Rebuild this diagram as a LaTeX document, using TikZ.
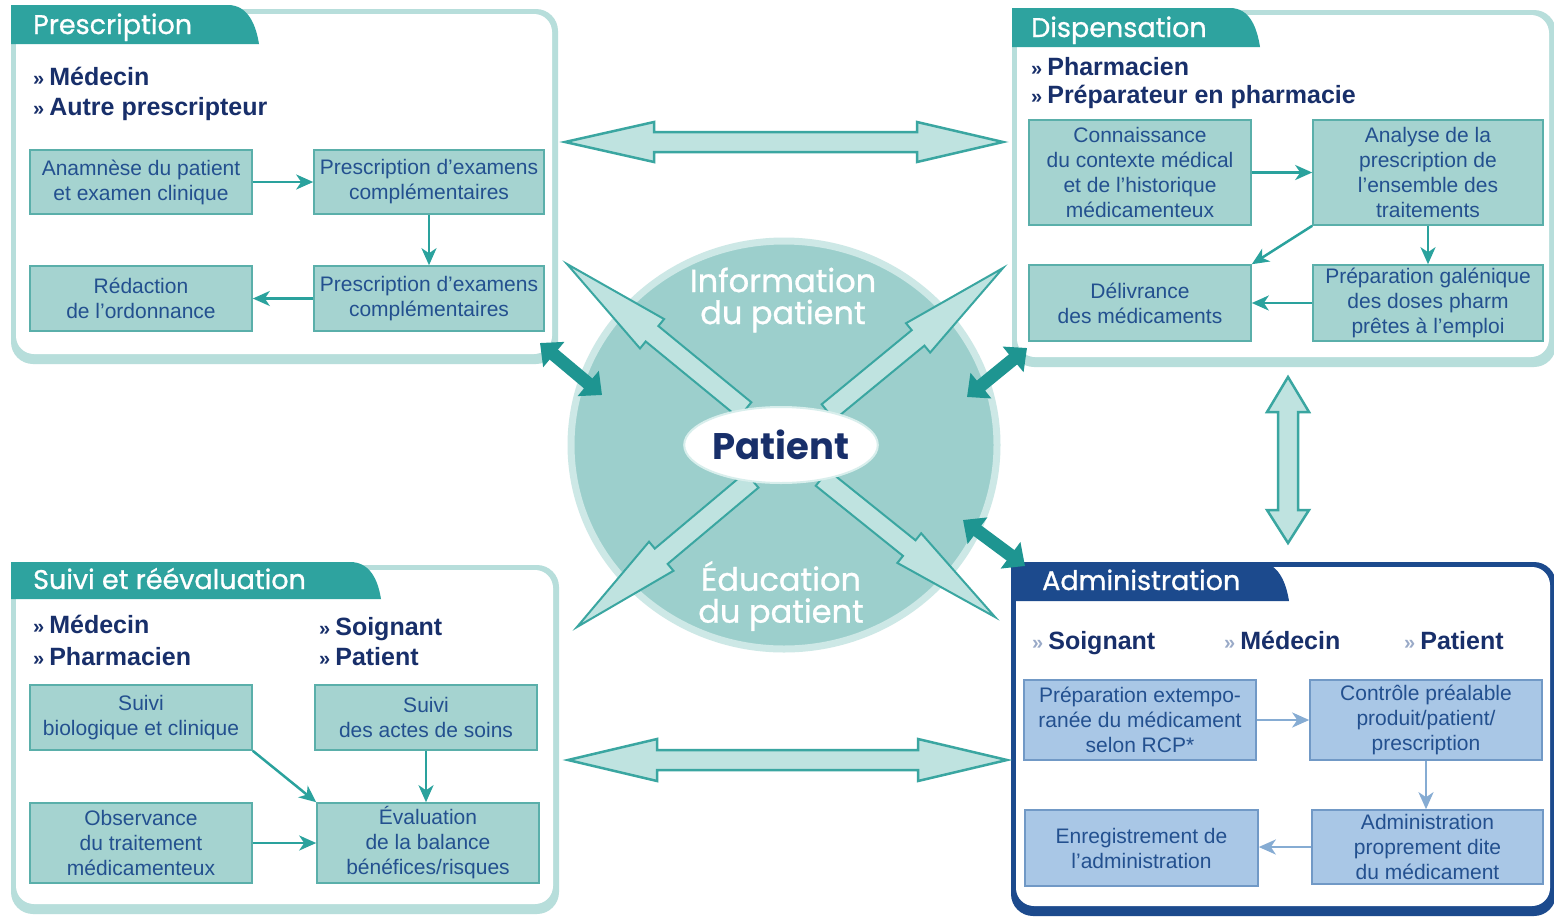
\documentclass[tikz,border=0pt]{standalone}
\usepackage{fontspec}
\setmainfont{Liberation Sans}
\newfontfamily\geo{Poppins}
\newfontfamily\geoB{Poppins}[FakeBold=0.9]
\usetikzlibrary{arrows.meta,calc,shapes.geometric}
\definecolor{tabC}{HTML}{2EA39F}
\definecolor{frameC}{HTML}{B7DEDB}
\definecolor{boxFill}{HTML}{A5D3D0}
\definecolor{boxDraw}{HTML}{5AAFAA}
\definecolor{txtC}{HTML}{23508F}
\definecolor{navy}{HTML}{182F6A}
\definecolor{arrC}{HTML}{2AA29D}
\definecolor{circC}{HTML}{9CCFCC}
\definecolor{haloC}{HTML}{CDE8E6}
\definecolor{thickC}{HTML}{1E9591}
\definecolor{hollowFill}{HTML}{BFE3E0}
\definecolor{hollowDraw}{HTML}{3AA6A1}
\definecolor{adminC}{HTML}{1C4A8D}
\definecolor{aboxFill}{HTML}{A9C7E6}
\definecolor{aboxDraw}{HTML}{7199C6}
\definecolor{aArr}{HTML}{86ACD3}
\definecolor{bulC}{HTML}{9AAAC8}
\definecolor{ellC}{HTML}{D8EEEC}
\newcommand\mybul{{\fontsize{20}{20}\selectfont »}\hspace{5pt}}
\newcommand\mybulL{{\color{bulC}\fontsize{20}{20}\selectfont »}\hspace{5pt}}
\tikzset{
 tbox/.style={draw=boxDraw, line width=1.6pt, fill=boxFill, text=txtC, align=center,
   font=\fontsize{21}{25}\selectfont, inner sep=0pt},
 abox/.style={tbox, draw=aboxDraw, fill=aboxFill},
 conn/.style={draw=arrC, line width=2.5pt, -{Stealth[length=17pt,width=15pt,inset=5pt]}},
 aconn/.style={conn, draw=aArr},
 pers/.style={text=navy, font=\fontsize{25}{28}\selectfont\bfseries, anchor=base west, inner sep=0pt},
 ttl/.style={text=white, font=\geoB\fontsize{27}{27}\selectfont, anchor=base west, inner sep=0pt},
 ctext/.style={text=white, font=\geoB\fontsize{32}{32}\selectfont, align=center, inner sep=0pt},
 hollow/.style={fill=hollowFill, draw=hollowDraw, line width=2.5pt, line join=miter},
 diagA/.style={fill=hollowFill, draw=hollowDraw, line width=2pt, line join=miter},
 thickA/.style={draw=thickC, line width=13pt, {Triangle[length=18pt,width=32pt]}-{Triangle[length=18pt,width=32pt]}},
}
\newcommand\patarrow[3]{%
 \coordinate (#1h) at ($(#3)!110pt!(#2)$);
 \draw[diagA] ($(#2)!10pt!90:(#3)$) -- ($(#1h)!10pt!90:(#3)$) -- ($(#1h)!19pt!90:(#3)$) -- (#3)
   -- ($(#1h)!19pt!-90:(#3)$) -- ($(#1h)!10pt!-90:(#3)$) -- ($(#2)!10pt!-90:(#3)$) -- cycle;}
\begin{document}
\begin{tikzpicture}[x=1pt,y=-1pt]
\useasboundingbox (0,0) rectangle (1554,916);
\fill[white] (0,0) rectangle (1554,916);

% ---------- panel frames ----------
\fill[frameC, rounded corners=22pt] (11,9) rectangle (558,364);
\fill[white, rounded corners=18pt] (16,14) rectangle (552,354);
\fill[frameC, rounded corners=22pt] (1012,10) rectangle (1556,367);
\fill[white, rounded corners=18pt] (1017,15) rectangle (1549,357);
\fill[frameC, rounded corners=22pt] (11,565) rectangle (559,914);
\fill[white, rounded corners=18pt] (16,570) rectangle (553,904);
\fill[adminC, rounded corners=22pt] (1011,562) rectangle (1556,916);
\fill[white, rounded corners=18pt] (1016,567) rectangle (1550,906);

% ---------- tabs ----------
\fill[tabC] (11,44) -- (11,5) -- (228,5) .. controls (248,5) and (256,25) .. (259,44) -- cycle;
\fill[tabC] (1012,47) -- (1012,8) -- (1230,8) .. controls (1250,8) and (1257,28) .. (1260,47) -- cycle;
\fill[tabC] (11,599) -- (11,562) -- (350,562) .. controls (370,562) and (378,580) .. (381,599) -- cycle;
\fill[adminC] (1011,601) -- (1011,562) -- (1258,562) .. controls (1278,562) and (1286,582) .. (1289,601) -- cycle;
\node[ttl] (t1) at (33,34) {Prescription};
\node[ttl] (t2) at (1031,37) {Dispensation};
\node[ttl] (t3) at (33,589) {Suivi et réévaluation};
\node[ttl] (t4) at (1042,590) {Administration};

% ---------- persons ----------
\node[pers] (pr1) at (33,85) {\mybul Médecin};
\node[pers] (pr2) at (33,115) {\mybul Autre prescripteur};
\node[pers] (pd1) at (1031,75) {\mybul Pharmacien};
\node[pers] (pd2) at (1031,103) {\mybul Préparateur en pharmacie};
\node[pers] (ps1) at (33,633) {\mybul Médecin};
\node[pers] (ps2) at (33,665) {\mybul Pharmacien};
\node[pers] (ps3) at (319,635) {\mybul Soignant};
\node[pers] (ps4) at (319,665) {\mybul Patient};
\node[pers] (pa1) at (1032,649) {\mybulL Soignant};
\node[pers] (pa2) at (1224,649) {\mybulL Médecin};
\node[pers] (pa3) at (1404,649) {\mybulL Patient};

% ---------- Prescription boxes ----------
\begin{scope}[every node/.append style={font=\fontsize{21}{27}\selectfont}]
\node[tbox, minimum width=222pt, minimum height=64pt] (a1) at (141,182) {Anamnèse du patient\\et examen clinique};
\node[tbox, minimum width=230pt, minimum height=64pt] (a2) at (429,182) {Prescription d’examens\\complémentaires};
\node[tbox, minimum width=222pt, minimum height=65pt] (a3) at (141,298.5) {Rédaction\\de l’ordonnance};
\node[tbox, minimum width=230pt, minimum height=65pt] (a4) at (429,298.5) {Prescription d’examens\\complémentaires};
\end{scope}
\draw[conn] (a1) -- (a2);
\draw[conn] (a2) -- (a4);
\draw[conn] (a4) -- (a3);

% ---------- Dispensation boxes ----------
\node[tbox, minimum width=222pt, minimum height=105pt] (b1) at (1140,172.5) {Connaissance\\du contexte médical\\et de l’historique\\médicamenteux};
\node[tbox, minimum width=230pt, minimum height=105pt] (b2) at (1428,172.5) {Analyse de la\\prescription de\\l’ensemble des\\traitements};
\node[tbox, minimum width=222pt, minimum height=76pt] (b3) at (1140,303) {Délivrance\\des médicaments};
\node[tbox, minimum width=230pt, minimum height=76pt] (b4) at (1428,303) {Préparation galénique\\des doses pharm\\prêtes à l’emploi};
\draw[conn] (b1) -- (b2);
\draw[conn] (b2) -- (b4);
\draw[conn] (b4) -- (b3);
\draw[conn] (b2.south west) -- (b3.north east);

% ---------- Suivi boxes ----------
\node[tbox, minimum width=222pt, minimum height=65pt] (c1) at (141,717.5) {Suivi\\biologique et clinique};
\node[tbox, minimum width=222pt, minimum height=65pt] (c2) at (426,717.5) {Suivi\\des actes de soins};
\node[tbox, minimum width=222pt, minimum height=80pt] (c3) at (141,843) {Observance\\du traitement\\médicamenteux};
\node[tbox, minimum width=222pt, minimum height=80pt] (c4) at (428,843) {Évaluation\\de la balance\\bénéfices/risques};
\draw[conn] (c1.south east) -- (c4.north west);
\draw[conn] (c2.south) -- (c2.south |- c4.north);
\draw[conn] (c3) -- (c4);

% ---------- Administration boxes ----------
\node[abox, minimum width=232pt, minimum height=80pt] (d1) at (1140,720) {Préparation extempo-\\ranée du médicament\\selon RCP*};
\node[abox, minimum width=232pt, minimum height=80pt] (d2) at (1426,720) {Contrôle préalable\\produit/patient/\\prescription};
\node[abox, minimum width=233pt, minimum height=76pt] (d3) at (1141.5,848) {Enregistrement de\\l’administration};
\node[abox, minimum width=231pt, minimum height=74pt] (d4) at (1427.5,847) {Administration\\proprement dite\\du médicament};
\draw[aconn] (d1) -- (d2);
\draw[aconn] (d2.south) -- (d2.south |- d4.north);
\draw[aconn] (d4.west) -- (d4.west -| d3.east);

% ---------- hollow double arrows between panels ----------
\draw[hollow] (565,142) -- (654,122) -- (654,132) -- (917,132) -- (917,122) -- (1003,142)
  -- (917,162) -- (917,152) -- (654,152) -- (654,162) -- cycle;
\draw[hollow] (568,760) -- (657,739) -- (657,750) -- (918,750) -- (918,739) -- (1007,760)
  -- (918,781) -- (918,770) -- (657,770) -- (657,781) -- cycle;
\draw[hollow] (1288,377) -- (1309,412) -- (1298,412) -- (1298,510) -- (1309,510) -- (1288,543)
  -- (1267,510) -- (1278,510) -- (1278,412) -- (1267,412) -- cycle;

% ---------- central circle ----------
\node[ellipse, minimum width=426pt, minimum height=408pt, fill=circC, draw=haloC, line width=7pt, inner sep=0pt] (circ) at (784,445) {};
\coordinate (dtlB) at (745,410); \coordinate (dtlT) at (567,264);
\coordinate (dtrB) at (828,412); \coordinate (dtrT) at (1003,268);
\coordinate (dblB) at (752,480); \coordinate (dblT) at (577,627);
\coordinate (dbrB) at (822,478); \coordinate (dbrT) at (995,617);
\patarrow{tl}{dtlB}{dtlT}
\patarrow{tr}{dtrB}{dtrT}
\patarrow{bl}{dblB}{dblT}
\patarrow{br}{dbrB}{dbrT}
\node[ellipse, fill=white, draw=ellC, line width=2pt, minimum width=186pt, minimum height=76pt, inner sep=0pt,
  text=navy, font=\geo\bfseries\fontsize{37}{37}\selectfont] (pat) at (781,445) {Patient};
\node[ctext] (info) at (783,300) {Information\\du patient};
\node[ctext] (educ) at (781,596) {Éducation\\du patient};

% ---------- thick teal double arrows ----------
\coordinate (tlA) at (540,343); \coordinate (tlB) at (602,395);
\coordinate (trA) at (1027,348); \coordinate (trB) at (967,397);
\coordinate (brA) at (963,520); \coordinate (brB) at (1025,566);
\draw[thickA] (tlA) -- (tlB);
\draw[thickA] (trA) -- (trB);
\draw[thickA] (brA) -- (brB);
\end{tikzpicture}
\end{document}
